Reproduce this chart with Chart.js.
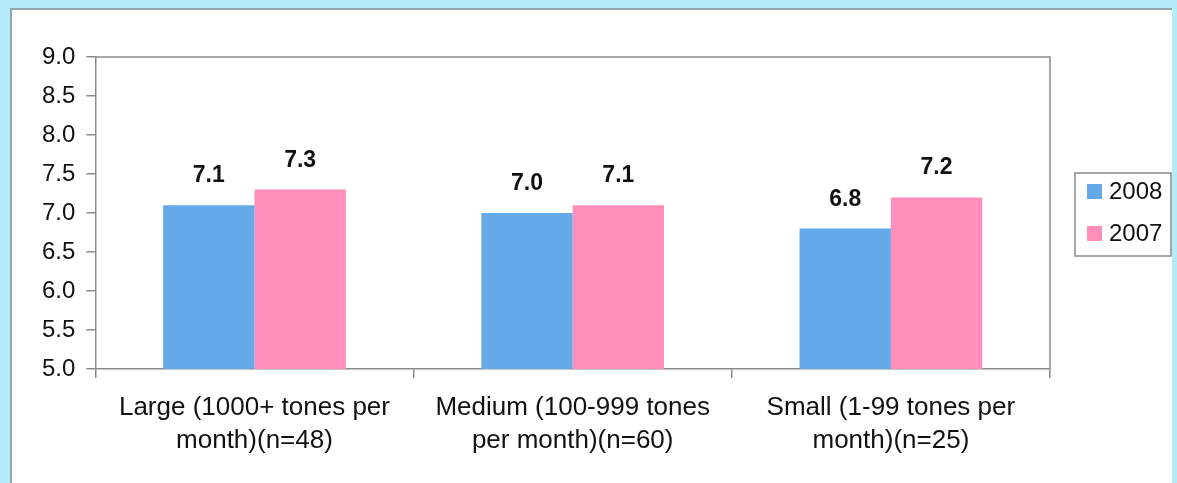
<!DOCTYPE html>
<html>
<head>
<meta charset="utf-8">
<script src="https://cdn.jsdelivr.net/npm/chart.js@4"></script>
<style>
  html, body { margin: 0; padding: 0; }
  body { width: 1177px; height: 483px; background: #b3ebf8; position: relative; overflow: hidden; }
  #panel { position: absolute; left: 10px; top: 8px; right: 5px; bottom: 0; background: #fff;
           border-top: 2px solid #8fa7ad; border-left: 2px solid #8fa7ad; }
  #wrap { position: absolute; left: 0; top: 0; width: 1177px; height: 483px; }
</style>
</head>
<body>
<div id="panel"></div>
<div id="wrap"><canvas id="chart" width="1177" height="483"></canvas></div>
<script>
// カテゴリと系列データ
const categories = [
    ['Large (1000+ tones per', 'month)(n=48)'],
    ['Medium (100-999 tones', 'per month)(n=60)'],
    ['Small (1-99 tones per', 'month)(n=25)']
];
const seriesNames = ['2008', '2007'];
const values2008 = [7.1, 7.0, 6.8];
const values2007 = [7.3, 7.1, 7.2];
const colors = ['#64aae9', '#ff8fba'];
const yMin = 5.0, yMax = 9.0, yStep = 0.5;

const gray = '#8a8a8a';
const FONT = "'Liberation Sans', Arial, sans-serif";

// 棒の上に値を描く
const valueLabels = {
    id: 'valueLabels',
    afterDatasetsDraw(chart) {
        const ctx = chart.ctx;
        ctx.save();
        ctx.font = `bold 23px ${FONT}`;
        ctx.fillStyle = '#111';
        ctx.textAlign = 'center';
        ctx.textBaseline = 'alphabetic';
        chart.data.datasets.forEach((ds, i) => {
            chart.getDatasetMeta(i).data.forEach((bar, j) => {
                ctx.fillText(ds.data[j].toFixed(1), bar.x, bar.y - 23);
            });
        });
        ctx.restore();
    }
};

// プロット枠 (上と右)
const plotFrame = {
    id: 'plotFrame',
    beforeDatasetsDraw(chart) {
        const { ctx, chartArea: a } = chart;
        ctx.save();
        ctx.strokeStyle = gray;
        ctx.lineWidth = 1.5;
        ctx.beginPath();
        ctx.moveTo(a.left, a.top);
        ctx.lineTo(a.right, a.top);
        ctx.lineTo(a.right, a.bottom);
        ctx.stroke();
        ctx.restore();
    }
};

// 凡例 (枠付き)
const boxLegend = {
    id: 'boxLegend',
    afterDraw(chart) {
        const ctx = chart.ctx;
        const left = 1075, top = 173, w = 96, h = 83;
        ctx.save();
        ctx.strokeStyle = gray;
        ctx.lineWidth = 1.5;
        ctx.strokeRect(left, top, w, h);
        ctx.font = `24px ${FONT}`;
        ctx.textBaseline = 'middle';
        ctx.textAlign = 'left';
        chart.data.datasets.forEach((ds, i) => {
            const cy = top + 18 + i * 42;
            ctx.fillStyle = ds.backgroundColor;
            ctx.fillRect(left + 12, cy - 7, 15, 15);
            ctx.fillStyle = '#111';
            ctx.fillText(ds.label, left + 34, cy + 1);
        });
        ctx.restore();
    }
};

new Chart(document.getElementById('chart').getContext('2d'), {
    type: 'bar',
    data: {
        labels: categories,
        datasets: [
            { label: seriesNames[0], data: values2008, backgroundColor: colors[0] },
            { label: seriesNames[1], data: values2007, backgroundColor: colors[1] }
        ]
    },
    options: {
        responsive: false,
        animation: false,
        layout: { padding: { top: 57, left: 31, right: 127, bottom: 13 } },
        datasets: { bar: { categoryPercentage: 0.574, barPercentage: 1.0, borderWidth: 0 } },
        plugins: { legend: { display: false }, tooltip: { enabled: false } },
        scales: {
            x: {
                grid: { offset: true, drawOnChartArea: false, tickLength: 9, color: gray, lineWidth: 1.5 },
                border: { color: gray, width: 1.5 },
                ticks: { color: '#111', font: { family: FONT, size: 26, lineHeight: 1.27 }, padding: 13, maxRotation: 0, autoSkip: false }
            },
            y: {
                min: yMin, max: yMax,
                grid: { drawOnChartArea: false, tickLength: 9, color: gray, lineWidth: 1.5 },
                border: { color: gray, width: 1.5 },
                ticks: { stepSize: yStep, color: '#111', font: { family: FONT, size: 24 }, padding: 11,
                         callback: v => v.toFixed(1) }
            }
        }
    },
    plugins: [plotFrame, valueLabels, boxLegend]
});
</script>
</body>
</html>
